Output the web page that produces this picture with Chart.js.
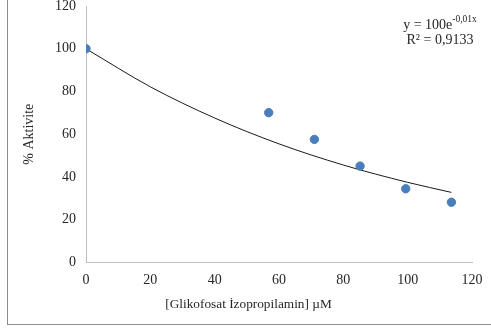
<!DOCTYPE html>
<html><head><meta charset="utf-8">
<script src="https://cdn.jsdelivr.net/npm/chart.js@4/dist/chart.umd.min.js"></script>
<style>html,body{margin:0;padding:0;background:#fff;}canvas{display:block;}</style>
</head><body>
<canvas id="c" width="491" height="328"></canvas>
<script>
const concentrations = [0, 56.8, 71.0, 85.2, 99.4, 113.6];
const activity = [100, 70.1, 57.6, 45.1, 34.5, 28.2];
const trendX = [0, 20, 40, 60, 80, 100, 113.6];
const trendY = [100, 82.2, 67.6, 55.5, 45.6, 37.5, 32.8];
const xTicks = [0, 20, 40, 60, 80, 100, 120];
const yTicks = [0, 20, 40, 60, 80, 100, 120];
const xTitle = '[Glikofosat İzopropilamin] µM';
const yTitle = '% Aktivite';
const eqMain = 'y = 100e';
const eqSup = '-0,01x';
const r2Text = 'R² = 0,9133';

const FONT = "'Liberation Serif', 'Times New Roman', serif";
const TXT = '#262626';

const decor = {
  id: 'decor',
  beforeDraw(chart) {
    const ctx = chart.ctx;
    ctx.save();
    ctx.strokeStyle = '#8c8c8c';
    ctx.lineWidth = 1;
    ctx.strokeRect(7.5, -5, 500, 329.5);
    ctx.restore();
  },
  afterDraw(chart) {
    const ctx = chart.ctx;
    ctx.save();
    ctx.fillStyle = TXT;
    ctx.textBaseline = 'alphabetic';
    ctx.font = '14px ' + FONT;
    const w1 = ctx.measureText(eqMain).width;
    ctx.font = '9.5px ' + FONT;
    const w2 = ctx.measureText(eqSup).width;
    const cx = 440;
    const x0 = cx - (w1 + w2) / 2;
    ctx.font = '14px ' + FONT;
    ctx.fillText(eqMain, x0, 29);
    ctx.font = '9.5px ' + FONT;
    ctx.fillText(eqSup, x0 + w1, 22);
    ctx.font = '14px ' + FONT;
    ctx.textAlign = 'center';
    ctx.fillText(r2Text, cx, 44);
    // x-axis title, centred on the whole chart as in the reference
    ctx.font = '13.3px ' + FONT;
    ctx.textBaseline = 'middle';
    ctx.fillText(xTitle, 248.5, 305);
    ctx.restore();
  }
};

new Chart(document.getElementById('c'), {
  type: 'scatter',
  data: {
    datasets: [
      {
        label: 'Aktivite',
        data: concentrations.map((x, i) => ({x, y: activity[i]})),
        backgroundColor: '#4a7ebb',
        borderColor: '#4a7ebb',
        pointRadius: 4.2,
        pointHoverRadius: 4.2,
        order: 1
      },
      {
        label: 'Trend',
        type: 'line',
        data: trendX.map((x, i) => ({x, y: trendY[i]})),
        borderColor: '#1a1a1a',
        borderWidth: 1,
        pointRadius: 0,
        fill: false,
        cubicInterpolationMode: 'monotone',
        order: 2
      }
    ]
  },
  options: {
    responsive: false,
    animation: false,
    events: [],
    layout: { padding: { left: 0, right: 19, top: 6, bottom: 0 } },
    plugins: { legend: { display: false }, tooltip: { enabled: false } },
    scales: {
      x: {
        type: 'linear', min: 0, max: 120,
        afterBuildTicks: s => { s.ticks = xTicks.map(v => ({value: v})); },
        afterFit: s => { s.height = 65.5; s.paddingLeft = 0; s.paddingRight = 0; },
        grid: { display: false, drawTicks: true, tickLength: 5, color: '#bfbfbf' },
        border: { display: true, color: '#bfbfbf', width: 1 },
        ticks: { color: TXT, font: { family: FONT, size: 14 }, padding: 4, maxRotation: 0 },
        title: { display: false }
      },
      y: {
        type: 'linear', min: 0, max: 120,
        afterBuildTicks: s => { s.ticks = yTicks.map(v => ({value: v})); },
        afterFit: s => { s.width = 86; s.paddingTop = 0; s.paddingBottom = 0; },
        grid: { display: false, drawTicks: true, tickLength: 5, color: '#bfbfbf' },
        border: { display: true, color: '#bfbfbf', width: 1 },
        ticks: { color: TXT, font: { family: FONT, size: 14 }, padding: 5 },
        title: { display: true, text: yTitle, color: TXT, font: { family: FONT, size: 14 }, padding: { top: 21, bottom: 0 } }
      }
    }
  },
  plugins: [decor]
});
</script>
</body></html>
